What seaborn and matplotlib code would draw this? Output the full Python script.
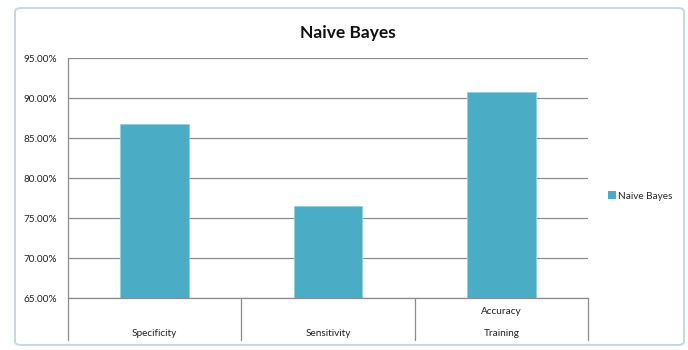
import matplotlib
matplotlib.use("Agg")
import matplotlib.pyplot as plt
import matplotlib.patches as mpatches
import matplotlib.transforms as mtransforms
from matplotlib.ticker import FuncFormatter, MultipleLocator
import seaborn as sns
import pandas as pd

categories = ["Specificity", "Sensitivity", "Accuracy\nTraining"]
values = [86.75, 76.55, 90.70]
series = "Naive Bayes"
title = "Naive Bayes"

sns.set_theme(style="white")
plt.rcParams["font.family"] = ["Lato", "DejaVu Sans"]

df = pd.DataFrame({"metric": categories, "value": values, "model": [series] * len(categories)})

fig = plt.figure(figsize=(6.88, 3.5), dpi=100)
fig.patch.set_facecolor("white")
ax = fig.add_axes([68 / 688, 52 / 350, 520 / 688, 240 / 350])

bar_color = "#4BACC6"
sns.barplot(data=df, x="metric", y="value", hue="model", palette=[bar_color],
            saturation=1, width=0.395, ax=ax, edgecolor="#8fd0e0", linewidth=0.6,
            legend=False)

fs = 7.2
ax.set_ylim(65, 95)
ax.yaxis.set_major_locator(MultipleLocator(5))
ax.yaxis.set_major_formatter(FuncFormatter(lambda v, p: f"{v:.2f}%"))
ax.set_xlim(-0.5, len(categories) - 0.5)
ax.grid(axis="y", color="#8c8c8c", linewidth=0.9)
ax.set_axisbelow(True)
ax.set_xlabel("")
ax.set_ylabel("")
for s in ["top", "right"]:
    ax.spines[s].set_visible(False)
for s in ["left", "bottom"]:
    ax.spines[s].set_color("#8c8c8c")
    ax.spines[s].set_linewidth(0.9)
ax.tick_params(axis="y", length=4, color="#8c8c8c", width=0.9, labelsize=fs, pad=4, labelcolor="#222222")
ax.tick_params(axis="x", length=0, labelsize=fs, labelcolor="#222222")
ax.set_xticks(range(len(categories)))
ax.set_xticklabels([])

# category labels and separators below axis
trans = mtransforms.blended_transform_factory(ax.transData, ax.transAxes)
for i, c in enumerate(categories):
    lines = c.split("\n")
    if len(lines) == 1:
        ax.text(i, -36 / 240, lines[0], transform=trans, ha="center", va="center",
                fontsize=fs, color="#222222")
    else:
        ax.text(i, -14 / 240, lines[0], transform=trans, ha="center", va="center",
                fontsize=fs, color="#222222")
        ax.text(i, -36 / 240, lines[1], transform=trans, ha="center", va="center",
                fontsize=fs, color="#222222")
for b in [x - 0.5 for x in range(len(categories) + 1)]:
    ax.plot([b, b], [0, -42 / 240], transform=trans, color="#8c8c8c", linewidth=0.9,
            clip_on=False)

fig.text(348 / 688, 1 - 33 / 350, title, ha="center", va="center",
         fontsize=12.5, fontweight="bold", color="#111111")

handle = mpatches.Patch(facecolor=bar_color, edgecolor="none", label=series)
fig.legend(handles=[handle], loc="center left", bbox_to_anchor=(604 / 688, 1 - 196 / 350),
           frameon=False, fontsize=fs, handlelength=0.75, handleheight=0.75,
           handletextpad=0.25, borderaxespad=0)

frame = mpatches.FancyBboxPatch((15 / 688, 5 / 350), 669 / 688, 337 / 350,
                                boxstyle="round,pad=0,rounding_size=0.01",
                                transform=fig.transFigure, facecolor="none",
                                edgecolor="#c5d8df", linewidth=1.4)
fig.patches.append(frame)

fig.savefig("out.png", dpi=100, facecolor="white")
